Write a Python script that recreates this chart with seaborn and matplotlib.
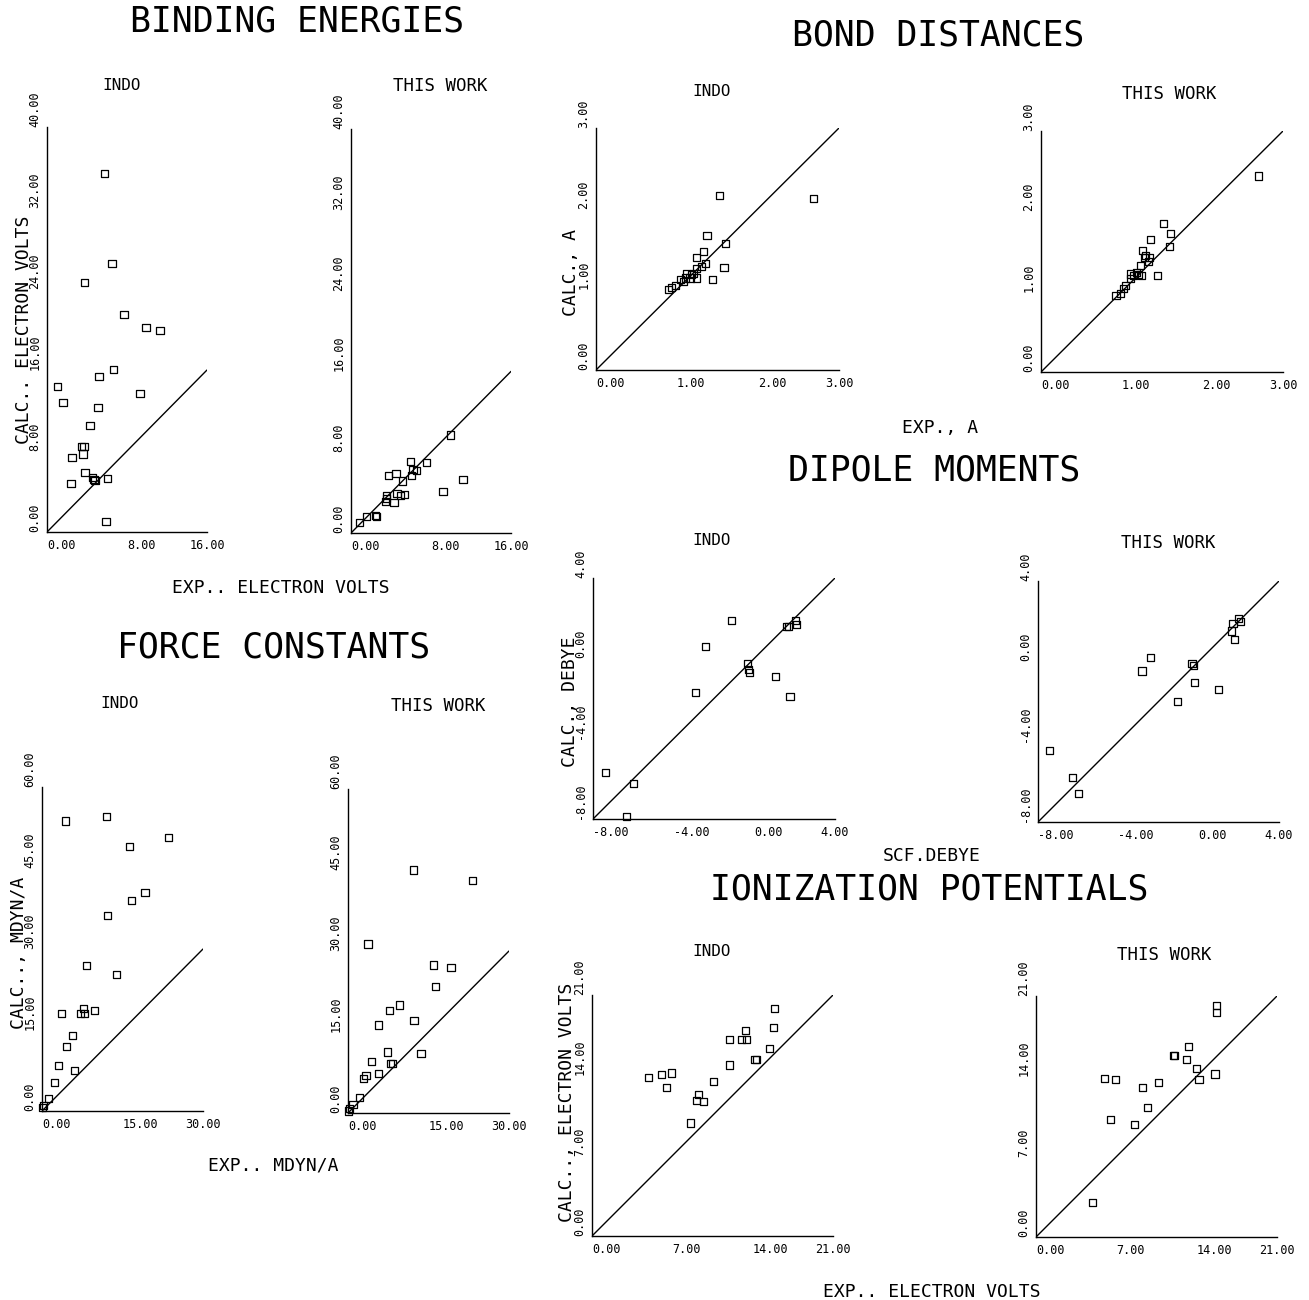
import matplotlib
matplotlib.use("Agg")
import matplotlib.pyplot as plt
import seaborn as sns

# ---------------- data ----------------
be_indo_x = [5.75, 6.5, 3.75, 7.7, 9.9, 11.3, 6.65, 5.2, 9.3, 1.05, 1.6, 5.1, 4.3, 3.45, 3.7, 3.6, 2.5, 3.8, 2.4, 4.55, 4.7, 4.8, 6.05, 5.9]
be_indo_y = [35.4, 26.5, 24.6, 21.5, 20.2, 19.9, 16.05, 15.4, 13.7, 14.4, 12.8, 12.3, 10.5, 8.4, 8.4, 7.7, 7.4, 5.9, 4.8, 5.4, 5.2, 5.1, 5.3, 1.0]
be_this_x = [9.97, 11.2, 9.2, 7.53, 5.93, 6.2, 6.53, 6.03, 5.17, 3.77, 4.5, 4.6, 5.33, 4.93, 3.53, 3.53, 4.3, 3.43, 2.43, 2.53, 1.53, 0.87]
be_this_y = [9.7, 5.3, 4.1, 7.0, 7.1, 6.3, 6.2, 5.65, 5.15, 5.7, 5.9, 3.9, 3.8, 3.7, 3.7, 3.4, 3.0, 3.1, 1.7, 1.65, 1.6, 1.0]

bd_indo_x = [1.53, 2.68, 1.37, 1.60, 1.33, 1.24, 1.58, 1.44, 1.35, 1.30, 1.24, 1.24, 1.20, 1.12, 1.10, 1.16, 1.04, 0.98, 0.93, 0.90, 1.18, 1.08]
bd_indo_y = [2.16, 2.13, 1.67, 1.57, 1.47, 1.40, 1.27, 1.12, 1.32, 1.28, 1.26, 1.14, 1.20, 1.20, 1.14, 1.14, 1.12, 1.05, 1.02, 1.00, 1.18, 1.10]
bd_this_x = [2.70, 1.52, 1.61, 1.59, 1.36, 1.26, 1.28, 1.35, 1.33, 1.44, 1.23, 1.25, 1.21, 1.15, 1.11, 1.11, 1.05, 0.98, 0.93, 1.02, 1.18, 1.30]
bd_this_y = [2.44, 1.85, 1.72, 1.56, 1.65, 1.51, 1.43, 1.43, 1.37, 1.20, 1.33, 1.20, 1.21, 1.20, 1.22, 1.16, 1.08, 0.98, 0.95, 1.04, 1.24, 1.45]

dm_indo_x = [-1.12, -2.41, -2.92, -0.34, -0.24, -0.28, 1.03, 1.77, 1.60, 1.69, 2.02, 2.07, -7.37, -5.99, -6.32]
dm_indo_y = [1.90, 0.58, -1.69, -0.25, -0.72, -0.55, -0.91, -1.91, 1.57, 1.60, 1.87, 1.70, -5.68, -6.25, -7.87]
dm_this_x = [-7.44, -6.29, -6.0, -2.82, -2.39, -1.05, -0.33, -0.25, -0.2, 1.01, 1.64, 1.79, 1.71, 1.99, 2.1]
dm_this_y = [-4.46, -5.79, -6.56, -0.48, 0.17, -2.01, -0.12, -0.2, -1.05, -1.41, 1.51, 1.10, 1.88, 2.12, 2.0]

fc_indo_x = [4.45, 12.1, 23.5, 16.3, 19.2, 16.7, 12.2, 8.35, 13.8, 9.77, 3.59, 7.7, 7.9, 7.2, 5.7, 4.64, 3.1, 6.0, 2.35, 1.24, 0.3, 0.12]
fc_indo_y = [53.7, 54.6, 50.6, 49.0, 40.4, 38.9, 36.2, 26.9, 25.3, 18.6, 18.0, 19.0, 18.0, 18.1, 14.0, 11.9, 8.5, 7.5, 5.2, 2.3, 1.0, 0.7]
fc_this_x = [12.2, 23.2, 3.72, 15.9, 19.2, 16.3, 9.55, 7.75, 12.3, 5.7, 13.6, 7.38, 4.46, 7.87, 8.37, 5.7, 3.35, 2.9, 2.17, 0.93, 0.3, 0.12]
fc_this_y = [45.0, 43.0, 31.3, 27.4, 26.9, 23.5, 20.0, 18.9, 17.2, 16.3, 11.1, 11.3, 9.6, 9.15, 9.15, 7.3, 7.0, 6.4, 2.8, 1.55, 0.8, 0.37]

ip_indo_x = [15.9, 15.8, 15.5, 13.4, 13.0, 13.5, 12.0, 14.2, 14.35, 12.0, 10.6, 9.28, 9.7, 9.13, 8.6, 4.93, 6.03, 6.96, 6.46]
ip_indo_y = [19.8, 18.2, 16.3, 17.9, 17.1, 17.1, 17.1, 15.4, 15.4, 14.9, 13.5, 12.3, 11.7, 11.8, 9.85, 13.8, 14.1, 14.2, 12.9]
ip_this_x = [15.7, 15.7, 15.6, 13.3, 13.1, 12.0, 12.05, 14.0, 14.2, 10.7, 9.28, 9.71, 8.55, 6.49, 5.97, 6.96, 4.93]
ip_this_y = [20.2, 19.6, 14.2, 16.6, 15.5, 15.8, 15.85, 14.7, 13.7, 13.5, 13.0, 11.25, 9.8, 10.2, 13.8, 13.7, 2.97]

be_ticks_x = [0, 8, 16]
be_ticks_y = [0, 8, 16, 24, 32, 40]
bd_ticks = [0, 1, 2, 3]
dm_ticks = [-8, -4, 0, 4]
fc_ticks_x = [0, 15, 30]
fc_ticks_y = [0, 15, 30, 45, 60]
ip_ticks = [0, 7, 14, 21]

section_titles = ["BINDING ENERGIES", "BOND DISTANCES", "DIPOLE MOMENTS", "FORCE CONSTANTS", "IONIZATION POTENTIALS"]
sub_indo = "INDO"
sub_this = "THIS WORK"
x_labels = ["EXP.. ELECTRON VOLTS", "EXP., A", "SCF.DEBYE", "EXP.. MDYN/A", "EXP.. ELECTRON VOLTS"]
y_labels = ["CALC.. ELECTRON VOLTS", "CALC., A", "CALC., DEBYE", "CALC.., MDYN/A", "CALC.., ELECTRON VOLTS"]

# ---------------- style ----------------
sns.set_style("white")
plt.rcParams['font.family'] = ['DejaVu Sans Mono', 'DejaVu Sans']

W, H = 1309, 1300
fig = plt.figure(figsize=(W / 100, H / 100), dpi=100)


def px_axes(x0, y0, x1, y1):
    return fig.add_axes([x0 / W, 1 - y1 / H, (x1 - x0) / W, (y1 - y0) / H])


def ftext(x, y, s, size, rot=0):
    fig.text(x / W, 1 - y / H, s, fontsize=size, rotation=rot,
             ha='center', va='center', color='black')


def panel(box, xs, ys, xt, yt):
    ax = px_axes(*box)
    lo, hi = xt[0], xt[-1]
    sns.lineplot(x=[lo, hi], y=[lo, hi], ax=ax, color='black', linewidth=1.0)
    sns.scatterplot(x=xs, y=ys, ax=ax, marker='s', s=26, facecolor='none',
                    edgecolor='black', linewidth=0.9, clip_on=False, zorder=3)
    ax.set_xlim(xt[0], xt[-1])
    ax.set_ylim(yt[0], yt[-1])
    ax.set_xticks(xt)
    ax.set_xticklabels([f"{v:.2f}" for v in xt])
    ax.set_yticks(yt)
    ax.set_yticklabels([f"{v:.2f}" for v in yt])
    for sp in ['top', 'right']:
        ax.spines[sp].set_visible(False)
    for sp in ['left', 'bottom']:
        ax.spines[sp].set_color('black')
        ax.spines[sp].set_linewidth(1.0)
    ax.tick_params(axis='both', direction='out', length=3, width=0.8,
                   colors='black', labelsize=8.5, pad=2)
    ax.tick_params(axis='y', labelrotation=90, pad=1)
    for lab in ax.get_yticklabels():
        lab.set_va('bottom')
        lab.set_ha('right')
    xlabs = ax.get_xticklabels()
    for lab in xlabs:
        lab.set_ha('left')
    xlabs[-1].set_ha('center')
    ax.set_xlabel('')
    ax.set_ylabel('')
    ax.patch.set_alpha(0)
    return ax


panel((47, 127, 207, 532), be_indo_x, be_indo_y, be_ticks_x, be_ticks_y)
panel((351, 129, 511, 533), be_this_x, be_this_y, be_ticks_x, be_ticks_y)
panel((596, 128, 839, 370), bd_indo_x, bd_indo_y, bd_ticks, bd_ticks)
panel((1041, 131, 1283, 372), bd_this_x, bd_this_y, bd_ticks, bd_ticks)
panel((593, 578, 835, 819), dm_indo_x, dm_indo_y, dm_ticks, dm_ticks)
panel((1038, 581, 1279, 822), dm_this_x, dm_this_y, dm_ticks, dm_ticks)
panel((42, 787, 203, 1111), fc_indo_x, fc_indo_y, fc_ticks_x, fc_ticks_y)
panel((348, 789, 509, 1113), fc_this_x, fc_this_y, fc_ticks_x, fc_ticks_y)
panel((592, 995, 833, 1236), ip_indo_x, ip_indo_y, ip_ticks, ip_ticks)
panel((1036, 996, 1277, 1237), ip_this_x, ip_this_y, ip_ticks, ip_ticks)

# section titles
for (x, y), s in zip([(297, 22), (938, 35), (934, 470), (274, 647), (929, 890)], section_titles):
    ftext(x, y, s, 25)

# sub titles
for x, y in [(122, 85), (712, 92), (712, 540), (120, 703), (712, 952)]:
    ftext(x, y, sub_indo, 11.5)
for x, y in [(440, 86), (1169, 94), (1168, 543), (438, 706), (1164, 955)]:
    ftext(x, y, sub_this, 12.5)

# x labels
for (x, y), s in zip([(281, 588), (940, 428), (932, 856), (273, 1166), (932, 1292)], x_labels):
    ftext(x, y, s, 13)

# y labels
for (x, y), s in zip([(24, 330), (571, 272), (570, 702), (19, 953), (567, 1102)], y_labels):
    ftext(x, y, s, 13, rot=90)

fig.savefig("out.png", dpi=100, facecolor='white')
